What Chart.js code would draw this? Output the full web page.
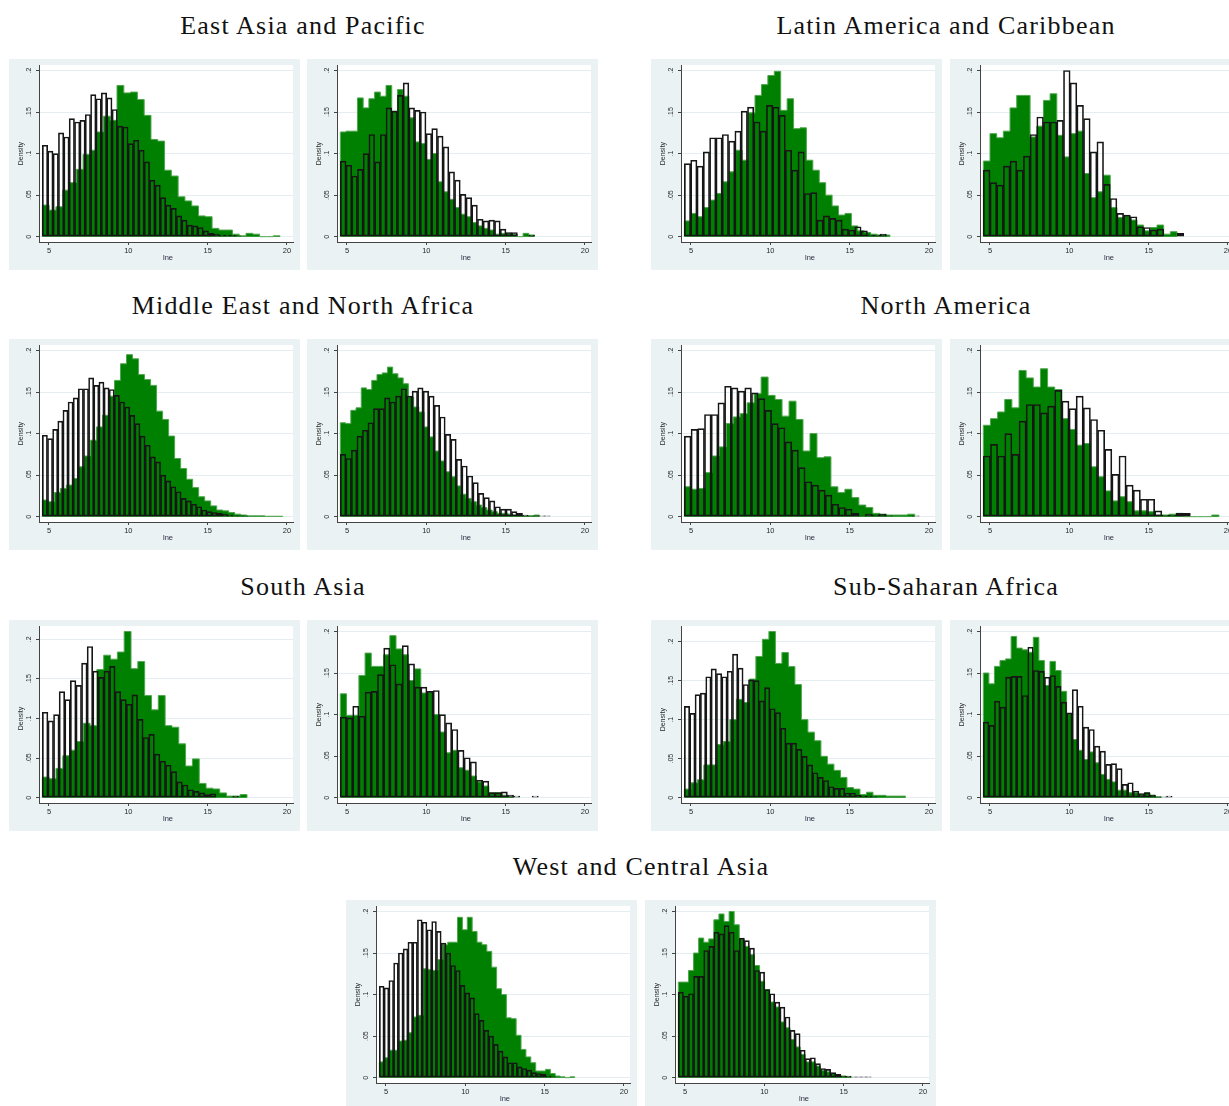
<!DOCTYPE html>
<html>
<head>
<meta charset="utf-8">
<script src="https://cdn.jsdelivr.net/npm/chart.js@4.4.1/dist/chart.umd.min.js"></script>
<style>
html,body{margin:0;padding:0;background:#ffffff;width:1229px;height:1106px;overflow:hidden;position:relative;}
.panel{position:absolute;width:291px;height:211px;background:#eaf2f3;}
.panel canvas{display:block;}
.title{position:absolute;width:600px;font-family:"Liberation Serif","Times New Roman",serif;font-size:26px;letter-spacing:1.2px;line-height:26px;text-align:center;color:#111;white-space:nowrap;}
</style>
</head>
<body>
<script>
// ---------------- data ----------------
const regionTitles = ["East Asia and Pacific","Latin America and Caribbean","Middle East and North Africa","North America","South Asia","Sub-Saharan Africa","West and Central Asia"];
const xTicks = [5,10,15,20];
const yTicks = [0,0.05,0.1,0.15,0.2];
const yTickLabels = ["0",".05",".1",".15",".2"];
const xTitle = "lne";
const yTitle = "Density";
const binStart = 4.58;

// panel order: EAP L/R, LAC L/R, MENA L/R, NA L/R, SA L/R, SSA L/R, WCA L/R
const whiteBinWidths = [0.338,0.36,0.398,0.421,0.324,0.348,0.423,0.45,0.353,0.39,0.337,0.35,0.30,0.32];
const greenBinWidths = [0.428,0.36,0.405,0.421,0.379,0.33,0.44,0.45,0.43,0.39,0.41,0.35,0.308,0.32];

const eapLeftWhite = [0.110,0.103,0.100,0.125,0.120,0.142,0.138,0.140,0.147,0.171,0.166,0.173,0.167,0.153,0.133,0.132,0.112,0.116,0.104,0.090,0.068,0.062,0.047,0.038,0.034,0.025,0.020,0.014,0.013,0.011,0.007,0.004,0.003,0.002,0.002,0.002,0.001];
const eapLeftGreen = [0.038,0.032,0.036,0.056,0.065,0.081,0.099,0.104,0.126,0.145,0.140,0.182,0.173,0.174,0.165,0.146,0.117,0.115,0.080,0.073,0.048,0.043,0.037,0.025,0.024,0.010,0.008,0.008,0.003,0.001,0.004,0.003,0,0,0.001];
const eapRightWhite = [0.091,0.086,0.073,0.081,0.100,0.123,0.090,0.123,0.155,0.151,0.170,0.185,0.155,0.152,0.150,0.124,0.130,0.121,0.108,0.078,0.068,0.051,0.047,0.038,0.021,0.019,0.020,0.019,0.009,0.005,0.005,0,0,0.002];
const eapRightGreen = [0.126,0.127,0.127,0.167,0.155,0.166,0.174,0.169,0.182,0.151,0.177,0.169,0.143,0.114,0.112,0.093,0.100,0.066,0.054,0.045,0.035,0.027,0.024,0.017,0.013,0.010,0.008,0.003,0.004,0.004,0.003,0,0.004,0.002];
const lacLeftWhite = [0.088,0.092,0.085,0.102,0.119,0.119,0.123,0.115,0.127,0.151,0.156,0.138,0.127,0.158,0.156,0.146,0.104,0.080,0.102,0.052,0.053,0.020,0.025,0.022,0.020,0.009,0.008,0.012,0.007,0.002,0.002,0.003];
const lacLeftGreen = [0.019,0.028,0.024,0.035,0.044,0.052,0.066,0.078,0.104,0.092,0.149,0.170,0.183,0.194,0.199,0.152,0.166,0.130,0.131,0.092,0.080,0.065,0.050,0.037,0.026,0.028,0.013,0.007,0.005,0.003,0.002,0.002];
const lacRightWhite = [0.080,0.065,0.062,0.085,0.091,0.080,0.097,0.123,0.144,0.138,0.138,0.140,0.200,0.185,0.158,0.142,0.102,0.114,0.063,0.046,0.028,0.026,0.024,0.012,0.011,0.008,0.009,0,0,0.004];
const lacRightGreen = [0.091,0.124,0.119,0.127,0.155,0.170,0.170,0.120,0.133,0.164,0.172,0.122,0.096,0.124,0.127,0.076,0.047,0.054,0.074,0.035,0.023,0.025,0.020,0.014,0.007,0.011,0.014,0.003,0.006];
const menaLeftWhite = [0.098,0.094,0.105,0.115,0.128,0.138,0.143,0.154,0.154,0.167,0.158,0.162,0.155,0.153,0.146,0.138,0.132,0.122,0.112,0.097,0.086,0.072,0.066,0.050,0.043,0.036,0.030,0.022,0.019,0.015,0.012,0.008,0.006,0.005,0.004,0.003,0.002,0.001,0.001,0.001];
const menaLeftGreen = [0.020,0.018,0.029,0.034,0.038,0.046,0.060,0.073,0.092,0.108,0.122,0.145,0.164,0.184,0.195,0.190,0.171,0.165,0.158,0.127,0.117,0.097,0.070,0.058,0.045,0.035,0.024,0.019,0.013,0.008,0.007,0.005,0.003,0.002,0.001,0.001,0.001,0.0005,0.0005,0.0005];
const menaRightWhite = [0.075,0.070,0.080,0.097,0.104,0.113,0.130,0.130,0.143,0.138,0.145,0.154,0.145,0.151,0.155,0.151,0.145,0.134,0.120,0.099,0.093,0.069,0.061,0.049,0.041,0.028,0.023,0.019,0.012,0.009,0.009,0.006,0.004,0.002,0.001,0.001,0.001,0.001];
const menaRightGreen = [0.113,0.112,0.128,0.131,0.155,0.153,0.164,0.171,0.173,0.180,0.172,0.167,0.160,0.144,0.132,0.126,0.108,0.096,0.079,0.067,0.054,0.048,0.037,0.027,0.022,0.018,0.014,0.011,0.008,0.006,0.004,0.004,0.003,0.002,0.001,0.001,0.001,0.002];
const naLeftWhite = [0.097,0.105,0.106,0.123,0.123,0.137,0.157,0.155,0.151,0.155,0.149,0.142,0.128,0.112,0.107,0.090,0.080,0.059,0.042,0.038,0.032,0.026,0.015,0.011,0.009,0.004,0.001,0.003,0.002,0.003,0.001,0,0,0,0.001];
const naLeftGreen = [0.036,0.033,0.034,0.053,0.073,0.084,0.112,0.120,0.124,0.137,0.148,0.168,0.146,0.141,0.121,0.139,0.117,0.079,0.100,0.071,0.072,0.036,0.029,0.033,0.023,0.014,0.011,0.004,0.003,0.002,0.002,0.002,0.003];
const naRightWhite = [0.073,0.087,0.073,0.100,0.075,0.115,0.135,0.135,0.125,0.133,0.152,0.139,0.130,0.145,0.131,0.117,0.104,0.081,0.051,0.073,0.038,0.032,0.021,0.021,0.007,0.002,0.002,0.004,0.004];
const naRightGreen = [0.110,0.118,0.126,0.141,0.131,0.176,0.167,0.156,0.178,0.156,0.153,0.118,0.105,0.086,0.088,0.060,0.048,0.031,0.019,0.024,0.018,0.007,0.007,0.006,0.002,0.002,0.003,0.004,0,0,0,0,0.002];
const saLeftWhite = [0.108,0.097,0.105,0.134,0.124,0.148,0.142,0.170,0.191,0.160,0.152,0.160,0.166,0.134,0.124,0.118,0.130,0.099,0.076,0.080,0.055,0.046,0.041,0.033,0.020,0.016,0.010,0.008,0.006,0.004,0.005,0,0,0,0.002];
const saLeftGreen = [0.026,0.024,0.037,0.053,0.060,0.071,0.094,0.091,0.162,0.180,0.175,0.184,0.210,0.163,0.172,0.129,0.111,0.129,0.091,0.089,0.068,0.040,0.049,0.018,0.012,0.011,0.006,0.002,0.002,0.004];
const saRightWhite = [0.097,0.096,0.110,0.098,0.127,0.128,0.148,0.180,0.160,0.137,0.183,0.161,0.133,0.133,0.128,0.129,0.100,0.090,0.082,0.057,0.048,0.043,0.021,0.020,0.006,0.006,0.007,0.003,0.002,0,0,0.002];
const saRightGreen = [0.125,0.099,0.099,0.147,0.174,0.158,0.158,0.172,0.195,0.179,0.172,0.141,0.155,0.126,0.127,0.100,0.079,0.054,0.057,0.036,0.033,0.026,0.019,0.014,0.006,0.006,0.003,0.001];
const ssaLeftWhite = [0.117,0.108,0.132,0.134,0.155,0.165,0.159,0.155,0.162,0.184,0.166,0.145,0.151,0.150,0.124,0.141,0.114,0.109,0.089,0.070,0.070,0.062,0.053,0.042,0.032,0.026,0.022,0.014,0.012,0.012,0.006,0.006,0.003,0.002,0.002,0.001];
const ssaLeftGreen = [0.011,0.019,0.023,0.042,0.042,0.068,0.072,0.100,0.126,0.122,0.152,0.181,0.203,0.213,0.172,0.186,0.168,0.145,0.100,0.084,0.073,0.053,0.043,0.035,0.026,0.013,0.011,0.004,0.007,0.003,0.003,0.002,0.002,0.002];
const ssaRightWhite = [0.091,0.087,0.116,0.109,0.145,0.146,0.146,0.123,0.181,0.153,0.152,0.145,0.147,0.134,0.115,0.102,0.130,0.110,0.085,0.082,0.062,0.056,0.040,0.041,0.035,0.016,0.018,0.008,0.005,0.006,0.003,0.001,0.001,0.002];
const ssaRightGreen = [0.150,0.137,0.158,0.165,0.167,0.194,0.180,0.178,0.175,0.193,0.165,0.135,0.164,0.153,0.128,0.101,0.070,0.057,0.046,0.055,0.042,0.028,0.022,0.019,0.009,0.009,0.006,0.006,0.004,0.006,0.003,0.001];
const wcaLeftWhite = [0.110,0.108,0.117,0.138,0.150,0.155,0.163,0.163,0.190,0.187,0.178,0.188,0.176,0.162,0.150,0.135,0.129,0.111,0.102,0.096,0.077,0.069,0.057,0.050,0.040,0.032,0.025,0.018,0.018,0.013,0.011,0.009,0.006,0.005,0.004,0.002,0.001];
const wcaLeftGreen = [0.019,0.024,0.033,0.033,0.044,0.045,0.054,0.073,0.075,0.131,0.130,0.129,0.142,0.160,0.163,0.163,0.193,0.178,0.193,0.176,0.163,0.160,0.152,0.133,0.107,0.100,0.072,0.071,0.051,0.034,0.025,0.018,0.008,0.008,0.010,0.005,0.002,0.001,0,0.001];
const wcaRightWhite = [0.103,0.098,0.101,0.122,0.122,0.153,0.158,0.175,0.173,0.183,0.175,0.153,0.168,0.165,0.156,0.129,0.127,0.106,0.101,0.091,0.085,0.073,0.057,0.053,0.033,0.023,0.024,0.017,0.011,0.010,0.006,0.004,0.002,0.002,0.001,0.001,0.001,0.001];
const wcaRightGreen = [0.115,0.115,0.129,0.150,0.168,0.163,0.167,0.190,0.197,0.188,0.200,0.184,0.167,0.158,0.148,0.135,0.116,0.106,0.091,0.085,0.067,0.060,0.046,0.037,0.028,0.019,0.019,0.014,0.009,0.007,0.005,0.003,0.002,0.001];

const whiteSeries = [eapLeftWhite,eapRightWhite,lacLeftWhite,lacRightWhite,menaLeftWhite,menaRightWhite,naLeftWhite,naRightWhite,saLeftWhite,saRightWhite,ssaLeftWhite,ssaRightWhite,wcaLeftWhite,wcaRightWhite];
const greenSeries = [eapLeftGreen,eapRightGreen,lacLeftGreen,lacRightGreen,menaLeftGreen,menaRightGreen,naLeftGreen,naRightGreen,saLeftGreen,saRightGreen,ssaLeftGreen,ssaRightGreen,wcaLeftGreen,wcaRightGreen];

// ---------------- layout ----------------
const panelW = 291, panelH = 211;
const regionLayout = [ // left edge of left panel, left edge of right panel, top
  [9,307,59],[651,950,59],[9,307,339],[651,950,339],[9,307,620],[651,950,620],[346,645,900]
];
const titleCenters = [303,946,303,946,303,946,641];

const whiteAreaPlugin = {
  id:'whiteArea',
  beforeDraw(chart){
    const a = chart.chartArea, ctx = chart.ctx;
    ctx.save(); ctx.fillStyle = '#ffffff';
    ctx.fillRect(a.left, a.top, a.right - a.left, a.bottom - a.top);
    ctx.restore();
  }
};
const axisTextPlugin = {
  id:'axisText',
  afterDraw(chart){
    const ctx = chart.ctx, a = chart.chartArea, xs = chart.scales.x, ys = chart.scales.y;
    ctx.save();
    ctx.fillStyle = '#2a2a2a';
    ctx.font = '7px "Liberation Sans", Arial, sans-serif';
    ctx.textAlign = 'center'; ctx.textBaseline = 'middle';
    yTicks.forEach((v,i)=>{
      const y = ys.getPixelForValue(v);
      ctx.save(); ctx.translate(a.left - 10, y); ctx.rotate(-Math.PI/2);
      ctx.fillText(yTickLabels[i], 0, 0); ctx.restore();
    });
    ctx.save(); ctx.translate(a.left - 18, (ys.getPixelForValue(0)+ys.getPixelForValue(0.2))/2); ctx.rotate(-Math.PI/2);
    ctx.fillText(yTitle, 0, 0); ctx.restore();
    ctx.font = '7.5px "Liberation Sans", Arial, sans-serif';
    xTicks.forEach(v=>{ ctx.fillText(String(v), xs.getPixelForValue(v), a.bottom + 9); });
    ctx.fillStyle = '#2e2a40';
    ctx.fillText(xTitle, (xs.getPixelForValue(5)+xs.getPixelForValue(20))/2, a.bottom + 15.5);
    ctx.restore();
  }
};

function makePanel(idx, left, top){
  const div = document.createElement('div');
  div.className = 'panel';
  div.style.left = left + 'px'; div.style.top = top + 'px';
  const cv = document.createElement('canvas');
  cv.width = panelW; cv.height = panelH;
  div.appendChild(cv); document.body.appendChild(div);

  const white = whiteSeries[idx], green = greenSeries[idx];
  const ww = whiteBinWidths[idx], gw = greenBinWidths[idx];
  const whiteData = white.map((v,i)=>({x: binStart + (i + 0.5) * ww, y: v}));
  const greenData = [{x: binStart, y: 0}];
  green.forEach((v,i)=>greenData.push({x: binStart + i * gw, y: v}));
  const gEnd = binStart + green.length * gw;
  greenData.push({x: gEnd, y: green[green.length-1]});
  greenData.push({x: gEnd, y: 0});

  const top0 = Math.max(0.2, Math.max(...white), Math.max(...green));
  const yMax = top0 * 1.033, yMin = -top0 * 0.032;

  new Chart(cv, {
    type: 'bar',
    data: { datasets: [
      { type:'bar', data: whiteData, backgroundColor:'rgba(255,255,255,0)', borderColor:'#161616', borderWidth:1,
        borderSkipped:false, barPercentage:1, categoryPercentage:1, order:0 },
      { type:'line', data: greenData, stepped:true, fill:'origin', backgroundColor:'#008000',
        borderColor:'#4fa64f', borderWidth:1, pointRadius:0, order:1 }
    ]},
    options: {
      responsive:false, animation:false, events:[],
      layout:{ padding:{ left:27, right:7, top:6, bottom:25 } },
      plugins:{ legend:{display:false}, tooltip:{enabled:false} },
      scales:{
        x:{ type:'linear', min:4.37, max:20.38, offset:false,
            afterBuildTicks: s => { s.ticks = xTicks.map(v=>({value:v})); },
            ticks:{ display:false },
            grid:{ display:true, drawOnChartArea:false, drawTicks:true, tickLength:3, tickColor:'#444', offset:false },
            border:{ display:true, color:'#444', width:1 } },
        y:{ type:'linear', min:yMin, max:yMax,
            afterBuildTicks: s => { s.ticks = yTicks.map(v=>({value:v})); },
            ticks:{ display:false },
            grid:{ display:true, color:'#e4eef0', lineWidth:1, drawTicks:true, tickLength:3, tickColor:'#444' },
            border:{ display:true, color:'#444', width:1 } }
      }
    },
    plugins:[whiteAreaPlugin, axisTextPlugin]
  });
}

regionTitles.forEach((t,r)=>{
  const [l1,l2,top] = regionLayout[r];
  const d = document.createElement('div');
  d.className = 'title';
  d.textContent = t;
  d.style.left = (titleCenters[r] - 300) + 'px';
  d.style.top = (top - 46) + 'px';
  document.body.appendChild(d);
  makePanel(r*2, l1, top);
  makePanel(r*2+1, l2, top);
});
</script>
</body>
</html>
